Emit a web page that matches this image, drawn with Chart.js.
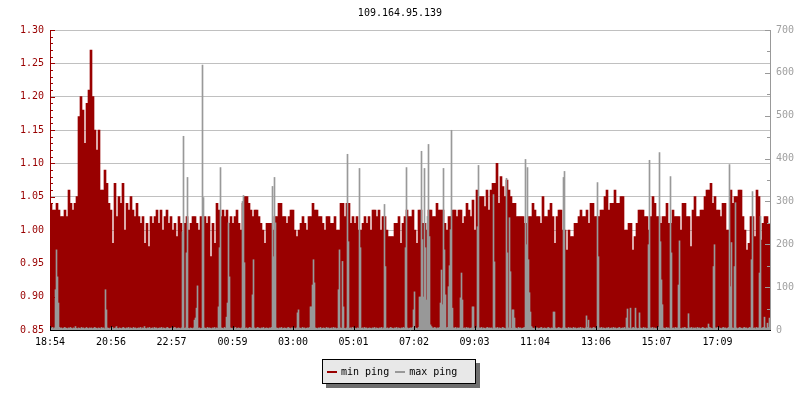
<!DOCTYPE html>
<html>
<head>
<meta charset="utf-8">
<title>109.164.95.139</title>
<script src="https://cdn.jsdelivr.net/npm/chart.js@4.4.0/dist/chart.umd.min.js"></script>
<style>
  body { margin: 0; background: #fff; }
  #wrap { position: relative; width: 800px; height: 400px; }
  #legend {
    position: absolute; left: 322px; top: 359px; width: 154px; height: 25px;
    box-sizing: border-box; background: #e8e8e8; border: 1px solid #000;
    box-shadow: 4px 4px 0 #6e6e6e; padding-left: 4px;
    display: flex; align-items: center;
    font: 10px 'DejaVu Sans Mono', monospace; color: #000;
  }
  .item { display: flex; align-items: center; margin-right: 6px; white-space: pre; }
  .sw { width: 10px; height: 2px; margin-right: 4px; }
</style>
</head>
<body>
<div id="wrap">
  <canvas id="c" width="800" height="400"></canvas>
  <div id="legend"></div>
</div>
<script>
'use strict';

const title = '109.164.95.139'
const tickLabels = ['18:54', '20:56', '22:57', '00:59', '03:00', '05:01', '07:02', '09:03', '11:04', '13:06', '15:07', '17:09']
const seriesNames = ['min ping', 'max ping']
const seriesColors = ['#990000', '#999999']

// min ping, one value every 4 minutes from 18:54
const minPing = [
  1.04, 1.03, 1.03, 1.04, 1.03, 1.02, 1.02, 1.03, 1.02, 1.06, 1.04, 1.03, 1.04, 1.05,
  1.17, 1.20, 1.18, 1.13, 1.19, 1.21, 1.27, 1.20, 1.15, 1.12, 1.15,
  1.06, 1.06, 1.09, 1.07, 1.04, 1.03, 0.98, 1.07, 1.02, 1.05, 1.04, 1.07,
  1.00, 1.04, 1.03, 1.05, 1.03, 1.02, 1.04, 1.02, 1.01, 1.02, 0.98, 1.01,
  0.975, 1.02, 1.01, 1.02, 1.03, 1.01, 1.03, 1.00, 1.02, 1.03, 1.01, 1.02,
  1.00, 1.01, 0.99, 1.02, 1.01, 0.99, 1.01, 1.02, 1.00, 1.01, 1.02,
  1.02, 1.01, 1.00, 1.02, 1.01, 1.02, 1.01, 1.02, 0.96, 1.01, 0.98, 1.04,
  1.03, 1.02, 1.03, 1.02, 1.03, 1.01, 1.02, 1.01, 1.02, 1.03, 1.01, 1.00,
  1.04, 1.05, 1.05, 1.04, 1.03, 1.02, 1.03, 1.03, 1.02, 1.01, 1.00, 0.98,
  1.01, 1.01, 1.01, 1.00, 1.02, 1.02, 1.04, 1.04, 1.02, 1.02, 1.01, 1.02,
  1.03, 1.03, 1.00, 0.99, 1.00, 1.01, 1.02, 1.01, 1.00, 1.02, 1.02, 1.04,
  1.03, 1.03, 1.02, 1.02, 1.01, 1.00, 1.02, 1.02, 1.01, 1.01, 1.02, 1.00,
  1.00, 1.04, 1.04, 1.02, 1.04, 1.04, 1.01, 1.02, 1.01, 1.02, 1.00, 1.00,
  1.01, 1.02, 1.01, 1.02, 1.00, 1.03, 1.03, 1.02, 1.03, 1.00, 1.02, 1.02,
  1.00, 0.99, 0.99, 0.99, 1.01, 1.01, 1.02, 0.98, 1.01, 1.02, 1.03, 1.02,
  1.02, 1.03, 1.00, 0.98, 1.03, 1.03, 1.01, 1.01, 1.00, 1.03, 1.03, 1.02,
  1.02, 1.04, 1.03, 1.03, 1.03, 1.01, 1.00, 1.02, 1.02, 1.03, 1.03, 1.02,
  1.03, 1.03, 1.01, 1.02, 1.04, 1.03, 1.02, 1.045, 1.00, 1.06, 1.05, 1.05,
  1.05, 1.035, 1.06, 1.03, 1.06, 1.07, 1.07, 1.10, 1.04, 1.08, 1.065, 1.05,
  1.075, 1.06, 1.05, 1.04, 1.04, 1.02, 1.02, 1.02, 1.02, 1.01, 1.01, 1.02,
  1.02, 1.04, 1.03, 1.02, 1.02, 1.01, 1.05, 1.02, 1.02, 1.03, 1.04, 1.02,
  0.98, 1.02, 1.03, 1.03, 1.00, 1.00, 0.97, 1.00, 0.99, 0.99, 1.01, 1.01,
  1.02, 1.03, 1.02, 1.02, 1.03, 1.01, 1.04, 1.04, 1.02, 1.02, 1.02, 1.03,
  1.03, 1.05, 1.06, 1.03, 1.04, 1.04, 1.06, 1.04, 1.04, 1.05, 1.05, 1.00,
  1.00, 1.01, 1.01, 0.97, 0.99, 1.01, 1.03, 1.03, 1.03, 1.02, 1.02, 1.00,
  1.02, 1.05, 1.04, 1.02, 1.02, 1.01, 1.02, 1.02, 1.04, 1.01, 1.01, 1.03,
  1.02, 1.02, 1.02, 1.00, 1.04, 1.04, 1.02, 1.02, 0.975, 1.03, 1.05, 1.02,
  1.02, 1.03, 1.03, 1.05, 1.06, 1.06, 1.07, 1.04, 1.05, 1.03, 1.03, 1.02,
  1.04, 1.04, 1.00, 1.00, 1.06, 1.04, 1.05, 1.05, 1.06, 1.06, 1.02, 1.00,
  0.97, 0.98, 1.02, 1.02, 0.99, 1.06, 1.05, 0.985, 1.01, 1.02, 1.02, 1.01
]

// max ping, one value every 2 minutes from 18:54
const maxPing = [
  5, 4, 6, 3, 5, 94, 187, 124, 63, 6, 4, 5, 3, 4, 6, 5, 4, 3, 5, 4, 6, 4, 3, 5, 4, 8, 4, 3, 5, 4, 3, 6, 4, 5, 3, 4, 6, 4, 3, 5,
  4, 5, 3, 4, 6, 5, 4, 3, 5, 4, 3, 6, 4, 5, 3, 94, 47, 5, 4, 3, 5, 4, 6, 3, 4, 5, 8, 4, 3, 5, 4, 3, 5, 6, 4, 3, 5, 4, 6, 3,
  5, 4, 3, 6, 4, 5, 3, 4, 5, 4, 6, 3, 5, 4, 8, 4, 3, 5, 4, 6, 3, 4, 5, 3, 6, 4, 5, 3, 4, 5, 4, 6, 3, 5, 4, 3, 5, 6, 4, 3,
  4, 5, 3, 4, 6, 5, 3, 4, 5, 4, 3, 5, 229, 452, 4, 5, 180, 356, 4, 3, 5, 4, 3, 5, 23, 28, 51, 103, 4, 5, 3, 4, 618, 309, 5, 4, 3, 6, 4, 5,
  4, 3, 5, 4, 6, 3, 5, 4, 54, 192, 379, 5, 4, 3, 6, 4, 30, 63, 250, 124, 5, 4, 3, 5, 4, 6, 3, 4, 5, 4, 3, 5, 300, 314, 157, 4, 5, 3, 4, 6,
  5, 4, 82, 164, 5, 3, 4, 6, 5, 4, 3, 5, 4, 6, 3, 4, 5, 4, 3, 5, 4, 6, 335, 171, 356, 250, 5, 4, 3, 5, 4, 6, 3, 4, 5, 4, 3, 5, 6, 4,
  3, 5, 4, 6, 4, 3, 5, 40, 47, 5, 4, 3, 6, 4, 5, 3, 4, 5, 4, 6, 54, 54, 105, 164, 110, 5, 4, 3, 5, 4, 6, 3, 4, 5, 4, 3, 6, 4, 5, 3,
  4, 5, 3, 6, 4, 5, 3, 4, 94, 187, 5, 4, 160, 54, 4, 3, 5, 410, 206, 4, 5, 3, 6, 4, 5, 4, 3, 5, 4, 377, 192, 4, 5, 3, 6, 4, 5, 3, 4, 5,
  4, 3, 5, 4, 6, 3, 5, 4, 3, 5, 4, 6, 3, 5, 293, 148, 4, 5, 3, 4, 6, 5, 4, 3, 5, 4, 6, 3, 5, 4, 3, 5, 4, 6, 4, 192, 379, 5, 3, 4,
  5, 4, 6, 47, 89, 5, 4, 3, 6, 77, 77, 417, 211, 77, 377, 192, 70, 265, 433, 218, 12, 8, 5, 4, 6, 5, 3, 5, 4, 6, 63, 140, 59, 377, 187, 82, 5, 6, 101, 150,
  234, 466, 51, 5, 4, 6, 3, 5, 4, 5, 75, 133, 70, 4, 5, 3, 6, 4, 5, 3, 4, 5, 54, 54, 4, 3, 5, 241, 384, 5, 4, 6, 3, 5, 4, 3, 5, 6, 4, 5,
  4, 5, 3, 316, 159, 5, 4, 6, 3, 5, 4, 3, 6, 5, 4, 3, 354, 180, 5, 262, 136, 4, 47, 47, 28, 5, 4, 3, 6, 4, 5, 3, 4, 5, 6, 398, 199, 379, 164, 87,
  42, 8, 5, 4, 3, 6, 4, 5, 3, 4, 5, 6, 3, 4, 5, 4, 3, 5, 6, 4, 3, 5, 4, 42, 42, 5, 3, 4, 6, 5, 4, 3, 5, 356, 370, 5, 4, 3, 6, 4,
  5, 4, 3, 6, 4, 5, 3, 4, 5, 4, 6, 3, 5, 4, 3, 5, 33, 6, 23, 4, 5, 3, 4, 6, 5, 4, 3, 344, 171, 5, 4, 6, 3, 5, 4, 3, 5, 4, 6, 3,
  4, 5, 3, 6, 4, 5, 3, 4, 5, 6, 3, 4, 5, 4, 6, 3, 28, 49, 5, 4, 51, 3, 5, 6, 4, 51, 5, 3, 4, 40, 5, 4, 3, 6, 4, 5, 3, 4, 199, 396,
  5, 4, 6, 3, 5, 4, 3, 5, 6, 414, 206, 117, 59, 5, 4, 3, 6, 4, 5, 3, 358, 180, 4, 5, 3, 6, 4, 5, 105, 208, 4, 3, 5, 4, 6, 5, 3, 4, 38, 5,
  4, 6, 3, 5, 4, 5, 3, 6, 4, 5, 3, 4, 6, 5, 4, 3, 5, 4, 14, 6, 5, 4, 3, 148, 199, 5, 4, 6, 3, 5, 4, 3, 5, 6, 4, 5, 3, 4, 6, 386,
  101, 204, 5, 4, 148, 297, 5, 3, 4, 6, 5, 4, 3, 5, 6, 4, 5, 3, 4, 6, 5, 164, 323, 4, 5, 3, 6, 4, 5, 133, 265, 4, 5, 6, 30, 5, 4, 16, 6, 28
]

const minStep = 4   // minutes per min ping sample
const maxStep = 2   // minutes per max ping sample

// minutes since the first tick label
let start = tickLabels[0].split(':').map(Number)
function toMinutes(t) {
    let [h, m] = t.split(':').map(Number)
    return (h * 60 + m - (start[0] * 60 + start[1]) + 1440) % 1440
}

// axis lines and inner tick marks, drawn over the bars
const axisPlugin = {
    id: 'axisTicks',
    afterDatasetsDraw(chart) {
        let { ctx, chartArea: a, scales } = chart
        ctx.save()
        ctx.lineWidth = 1

        // left axis
        let y = scales.y
        ctx.strokeStyle = seriesColors[0]
        ctx.beginPath()
        ctx.moveTo(a.left + 0.5, a.top)
        ctx.lineTo(a.left + 0.5, a.bottom)
        let n = Math.round((y.max - y.min) * 100)
        for (let k = 0; k <= n; k++) {
            let py = Math.round(y.getPixelForValue(y.min + k / 100)) + 0.5
            ctx.moveTo(a.left, py)
            ctx.lineTo(a.left + (k % 5 === 0 ? 5 : 3), py)
        }
        ctx.stroke()

        // right axis
        let y2 = scales.y2
        ctx.strokeStyle = seriesColors[1]
        ctx.beginPath()
        ctx.moveTo(a.right + 0.5, a.top)
        ctx.lineTo(a.right + 0.5, a.bottom)
        for (let v = y2.min; v <= y2.max; v += 50) {
            let py = Math.round(y2.getPixelForValue(v)) + 0.5
            ctx.moveTo(a.right + 1, py)
            ctx.lineTo(a.right + 1 - (v % 100 === 0 ? 6 : 4), py)
        }
        ctx.stroke()

        // bottom axis
        ctx.strokeStyle = '#000'
        ctx.beginPath()
        ctx.moveTo(a.left, a.bottom + 0.5)
        ctx.lineTo(a.right + 1, a.bottom + 0.5)
        scales.x.ticks.forEach(t => {
            let px = Math.round(scales.x.getPixelForValue(t.value)) + 0.5
            ctx.moveTo(px, a.bottom)
            ctx.lineTo(px, a.bottom - 4)
        })
        ctx.stroke()
        ctx.restore()
    }
}

Chart.defaults.font.family = "'DejaVu Sans Mono', monospace"
Chart.defaults.font.size = 10

new Chart(document.getElementById('c'), {
    type: 'bar',
    data: {
        datasets: [
            {
                label: seriesNames[0],
                data: minPing.map((v, i) => ({ x: i * minStep + minStep / 2, y: v })),
                backgroundColor: seriesColors[0],
                borderWidth: 0,
                barThickness: 2,
                grouped: false,
                yAxisID: 'y',
                order: 2
            },
            {
                label: seriesNames[1],
                data: maxPing.map((v, i) => ({ x: i * maxStep + maxStep / 2, y: v })),
                backgroundColor: seriesColors[1],
                borderWidth: 0,
                barThickness: 1,
                grouped: false,
                yAxisID: 'y2',
                order: 1
            }
        ]
    },
    options: {
        responsive: false,
        animation: false,
        devicePixelRatio: 1,
        layout: { padding: { left: 0, right: 0, top: 0, bottom: 50 } },
        plugins: {
            legend: { display: false },
            tooltip: { enabled: false },
            title: {
                display: true,
                text: title,
                color: '#000',
                font: { size: 10, weight: 'normal' },
                padding: { top: 7, bottom: 11 }
            }
        },
        scales: {
            x: {
                type: 'linear',
                min: 0,
                max: 1440,
                offset: false,
                grid: { display: false, offset: false, drawTicks: false },
                border: { display: false },
                afterBuildTicks: s => { s.ticks = tickLabels.map(t => ({ value: toMinutes(t) })) },
                afterFit: s => { s.height = 20 },
                ticks: {
                    autoSkip: false,
                    maxRotation: 0,
                    padding: 6,
                    color: '#000',
                    callback: (v, i) => tickLabels[i]
                }
            },
            y: {
                position: 'left',
                min: 0.85,
                max: 1.30,
                afterFit: s => { s.width = 50 },
                grid: { color: '#c0c0c0', drawTicks: false },
                border: { display: false },
                ticks: { stepSize: 0.05, padding: 6, color: seriesColors[0], callback: v => v.toFixed(2) }
            },
            y2: {
                position: 'right',
                min: 0,
                max: 700,
                afterFit: s => { s.width = 30 },
                grid: { display: false, drawTicks: false },
                border: { display: false },
                ticks: { stepSize: 100, padding: 6, color: '#a0a0a0' }
            }
        }
    },
    plugins: [axisPlugin]
})

// legend box under the chart
let legend = document.getElementById('legend')
seriesNames.forEach((name, i) => {
    let item = document.createElement('span')
    item.className = 'item'
    let sw = document.createElement('span')
    sw.className = 'sw'
    sw.style.background = seriesColors[i]
    item.appendChild(sw)
    item.appendChild(document.createTextNode(name))
    legend.appendChild(item)
})
</script>
</body>
</html>
